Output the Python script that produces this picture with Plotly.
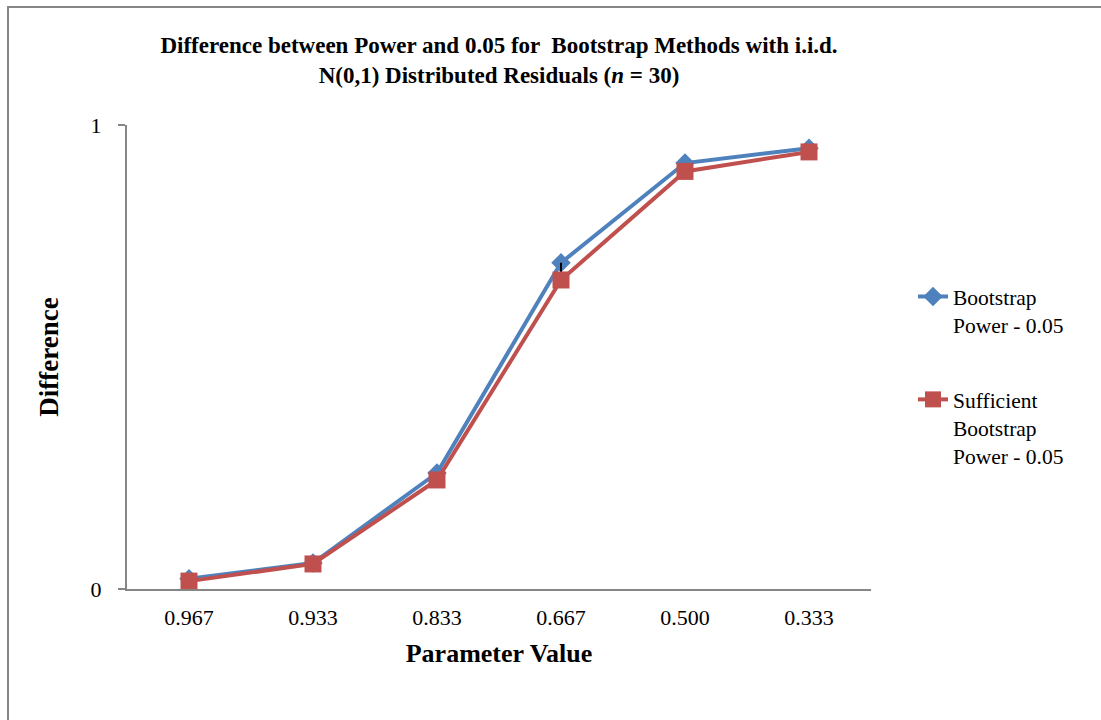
import plotly.graph_objects as go

categories = ["0.967", "0.933", "0.833", "0.667", "0.500", "0.333"]
bootstrap = [0.022, 0.056, 0.250, 0.703, 0.918, 0.950]
sufficient = [0.017, 0.054, 0.235, 0.666, 0.900, 0.942]
series_names = ["Bootstrap<br>Power - 0.05", "Sufficient<br>Bootstrap<br>Power - 0.05"]

diff_up = [b - s for b, s in zip(bootstrap, sufficient)]

FONT = "Liberation Serif, Times New Roman, serif"
GRAY = "#868686"

L, R, T, B = 127, 230, 125, 131
W, H = 1101, 720
pw, ph = W - L - R, H - T - B

fig = go.Figure()
fig.add_trace(go.Scatter(
    x=categories, y=bootstrap, name=series_names[0], mode="lines+markers",
    legendgroup="a",
    line=dict(color="#4F81BD", width=4),
    marker=dict(symbol="diamond", size=15, color="#4F81BD"),
))
fig.add_trace(go.Scatter(
    x=categories, y=sufficient, name=series_names[1], mode="lines+markers",
    legendgroup="b",
    line=dict(color="#C0504D", width=4),
    marker=dict(symbol="square", size=17, color="#C0504D"),
    error_y=dict(type="data", symmetric=False, array=diff_up,
                 arrayminus=[0] * len(diff_up), color="black", thickness=2, width=0),
))

fig.update_layout(
    width=W, height=H,
    paper_bgcolor="white", plot_bgcolor="white",
    margin=dict(l=L, r=R, t=T, b=B),
    font=dict(family=FONT, size=22, color="black"),
    showlegend=True,
    title=dict(
        text="<b>Difference between Power and 0.05 for  Bootstrap Methods with i.i.d.<br>N(0,1) Distributed Residuals (<i>n</i> = 30)</b>",
        x=(L + pw / 2) / W, xanchor="center", y=1 - 53 / H, yanchor="top",
        font=dict(family=FONT, size=23, color="black"),
    ),
    xaxis=dict(
        type="category", range=[-0.5, 5.5], showgrid=False, showline=True,
        linecolor=GRAY, linewidth=2,
        ticks="", tickfont=dict(family=FONT, size=22), ticklabelstandoff=8,
        title=dict(text="<b>Parameter Value</b>", font=dict(family=FONT, size=26), standoff=14),
    ),
    yaxis=dict(
        range=[0, 1], tickvals=[0, 1], ticktext=["0", "1"], showgrid=True,
        gridcolor=GRAY, gridwidth=2, zeroline=False, showline=True,
        linecolor=GRAY, linewidth=2, ticks="outside", ticklen=7, tickcolor=GRAY, tickwidth=2,
        tickfont=dict(family=FONT, size=22), ticklabelstandoff=12,
        title=dict(text="<b>Difference</b>", font=dict(family=FONT, size=27), standoff=24),
    ),
    legend=dict(
        x=(913 - L) / pw, xanchor="left", y=(H - B - 276) / ph, yanchor="top",
        font=dict(family=FONT, size=21.5), tracegroupgap=44, valign="top",
        bgcolor="rgba(0,0,0,0)",
    ),
    shapes=[dict(type="rect", xref="paper", yref="paper",
                 x0=(8 - L) / pw, x1=1.5, y0=-0.5, y1=(H - B - 7) / ph,
                 line=dict(color=GRAY, width=2))],
)

fig.write_html("out.html")
